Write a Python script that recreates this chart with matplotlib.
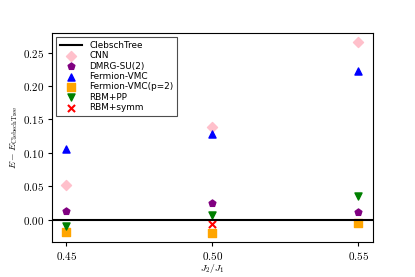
import matplotlib
matplotlib.use('Agg')
import matplotlib.pyplot as plt
from matplotlib.ticker import FuncFormatter

plt.rcParams['mathtext.fontset'] = 'cm'
plt.rcParams['font.size'] = 7

# 数据
j_ratio = [0.45, 0.50, 0.55]
cnn = [0.0525, 0.139, 0.265]
dmrg = [0.014, 0.0255, 0.012]
fermion_vmc = [0.1055, 0.1285, 0.222]
fermion_vmc_p2 = [-0.0185, -0.019, -0.0045]
rbm_pp = [-0.0095, 0.0075, 0.035]
rbm_symm_x = [0.50]
rbm_symm = [-0.0065]

fig = plt.figure(figsize=(4.15, 2.77), dpi=100)
ax = fig.add_axes([0.125, 0.126, 0.774, 0.755])

ax.axhline(0, color='black', lw=1.5, label='ClebschTree')
ax.scatter(j_ratio, cnn, marker='D', color='pink', s=26, label='CNN')
ax.scatter(j_ratio, dmrg, marker='p', color='purple', s=26, label='DMRG-SU(2)')
ax.scatter(j_ratio, fermion_vmc, marker='^', color='blue', s=26, label='Fermion-VMC')
ax.scatter(j_ratio, fermion_vmc_p2, marker='s', color='orange', s=26, label='Fermion-VMC(p=2)')
ax.scatter(j_ratio, rbm_pp, marker='v', color='green', s=26, label='RBM+PP')
ax.scatter(rbm_symm_x, rbm_symm, marker='x', color='red', s=26, label='RBM+symm')

ax.set_xticks(j_ratio)
fmt = FuncFormatter(lambda v, p: '$%.2f$' % v)
ax.xaxis.set_major_formatter(fmt)
ax.yaxis.set_major_formatter(fmt)
ax.tick_params(labelsize=8, length=3, pad=2.5)

ax.set_xlabel(r'$J_2/J_1$', fontsize=7, labelpad=0)
ax.set_ylabel(r'$E - E_{\rm ClebschTree}$', fontsize=7, labelpad=2)

leg = ax.legend(loc='upper left', fontsize=6.4, fancybox=False, edgecolor='0.3',
                framealpha=1, labelspacing=0.15, handlelength=2.5, borderpad=0.4,
                handletextpad=0.8)
leg.get_frame().set_linewidth(0.8)

plt.savefig('out.png', dpi=100)
